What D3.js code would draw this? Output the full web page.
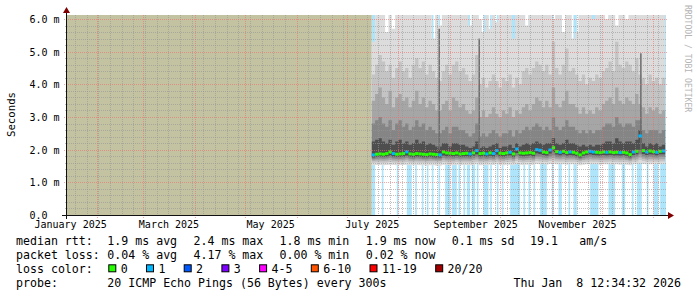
<!DOCTYPE html>
<html>
<head>
<meta charset="utf-8">
<script src="https://cdn.jsdelivr.net/npm/d3@7"></script>
<style>
  body { margin: 0; background: #fff; }
  text { font-family: "DejaVu Sans Mono", monospace; white-space: pre; }
</style>
</head>
<body>
<div id="chart"></div>
<script>
// time window of the graph and the first day that has data (2 days per column)
const timeWindow = ["2025-01-13 12:34:32", "2026-01-08 12:34:32"];
const firstDataDay = "2025-07-16";

// y axis
const yTicks = [0, 1, 2, 3, 4, 5, 6];
const yLabels = ["0.0", "1.0 m", "2.0 m", "3.0 m", "4.0 m", "5.0 m", "6.0 m"];
const xLabels = ["January 2025", "March 2025", "May 2025", "July 2025", "September 2025", "November 2025"];

// median rtt per column (ms) and lost pings in that column
const median = [1.84,1.86,1.87,1.86,1.88,1.93,1.88,1.86,1.87,1.88,
  1.93,1.87,1.86,1.88,1.87,1.86,1.85,1.87,1.86,1.85,
  1.84,1.93,1.90,1.89,1.88,1.90,1.87,1.88,1.89,1.87,
  1.90,1.97,1.88,1.89,1.87,1.90,1.88,1.97,1.89,1.88,
  1.90,1.92,1.87,2.02,1.90,1.89,1.90,1.91,1.89,2.00,
  1.98,1.93,1.91,1.99,2.06,1.94,1.92,1.95,1.91,1.93,
  1.92,1.89,1.84,1.90,1.93,1.95,1.93,1.92,1.91,1.93,
  1.92,1.93,1.91,1.92,1.91,1.92,1.90,1.85,1.93,1.95,
  2.42,1.97,1.93,1.96,1.94,1.92,1.95,1.96];
const medianLoss = [1,0,0,0,0,0,1,0,0,0,
  1,0,0,0,0,0,0,0,0,0,
  1,0,0,0,0,0,0,0,0,1,
  0,1,0,0,1,0,1,1,0,0,
  0,1,0,1,0,0,0,0,0,1,
  1,0,0,1,0,0,1,0,0,1,
  0,0,0,0,0,1,1,0,0,0,
  1,0,0,0,1,0,0,0,1,0,
  1,0,1,0,0,1,0,1];

// smoke: sorted ping levels per column (ms)
const maxPing = [5.3,6.5,6.5,6.5,5.6,6.5,5.7,6.5,6.5,6.5,
  6.5,6.5,6.5,6.5,6.5,6.5,6.5,6.5,5.4,6.5,
  5.8,6.5,6.5,6.5,6.5,6.5,6.5,6.5,6.5,5.8,
  6.5,6.5,6.0,5.6,6.5,5.7,6.5,5.9,6.5,6.5,
  6.5,6.5,5.4,6.5,6.5,6.5,5.8,6.5,6.5,6.5,
  6.5,6.5,6.5,6.5,6.0,6.5,6.5,5.6,6.5,6.5,
  5.4,5.6,6.5,6.5,6.5,6.5,6.0,6.5,6.5,6.5,
  6.0,6.5,6.5,5.8,6.5,6.5,6.0,6.5,6.5,6.5,
  6.5,6.5,6.5,6.5,6.5,6.5,6.5,6.5];
const q90 = [4.3,4.6,4.9,4.7,4.4,4.6,4.2,4.5,4.7,4.4,
  4.5,4.2,4.6,4.8,4.5,4.7,4.3,4.6,4.4,4.2,
  4.1,4.4,4.6,4.3,4.6,4.7,4.4,4.5,4.3,4.1,
  4.3,4.9,4.0,4.2,3.9,4.1,4.3,4.1,3.9,4.2,
  4.1,4.3,3.9,4.2,4.0,4.4,4.5,4.3,4.5,4.7,
  4.6,4.4,4.6,4.3,5.3,4.5,4.3,4.6,5.1,4.4,
  4.5,4.3,4.1,4.3,4.0,4.2,4.1,4.3,4.2,4.4,
  4.5,4.7,4.4,5.3,4.6,4.5,4.7,4.6,4.4,4.8,
  4.3,4.2,4.0,4.3,4.1,4.2,4.0,4.2];
const q80 = [3.5,3.7,3.9,3.6,3.4,3.8,3.3,3.6,3.7,3.5,
  3.6,3.3,3.5,3.8,3.4,3.6,3.3,3.5,3.4,3.2,
  3.2,3.4,3.5,3.2,3.6,3.5,3.3,3.4,3.2,3.1,
  3.2,3.6,3.0,3.2,3.0,3.1,3.3,3.1,3.0,3.2,
  3.1,3.3,3.0,3.2,3.1,3.3,3.4,3.2,3.4,3.6,
  3.5,3.3,3.5,3.3,3.9,3.4,3.3,3.5,3.8,3.4,
  3.4,3.3,3.1,3.3,3.1,3.2,3.1,3.3,3.2,3.4,
  3.5,3.6,3.4,3.9,3.5,3.4,3.6,3.5,3.4,3.7,
  3.4,3.3,3.1,3.3,3.2,3.3,3.1,3.2];
const q70 = [2.8,2.9,3.0,2.8,2.7,2.9,2.6,2.8,2.9,2.7,
  2.8,2.6,2.7,2.9,2.7,2.8,2.6,2.7,2.6,2.5,
  2.5,2.6,2.7,2.5,2.7,2.7,2.6,2.6,2.5,2.4,
  2.5,2.8,2.4,2.5,2.4,2.5,2.6,2.5,2.4,2.5,
  2.5,2.6,2.4,2.6,2.5,2.6,2.7,2.6,2.7,2.8,
  2.7,2.6,2.7,2.6,3.0,2.7,2.6,2.7,2.9,2.7,
  2.7,2.6,2.5,2.6,2.5,2.6,2.5,2.6,2.6,2.7,
  2.8,2.8,2.7,3.0,2.8,2.7,2.8,2.8,2.7,2.9,
  2.9,2.6,2.5,2.6,2.6,2.6,2.5,2.6];
const q60 = [2.25,2.3,2.35,2.25,2.2,2.3,2.15,2.25,2.3,2.2,
  2.25,2.15,2.2,2.3,2.2,2.25,2.15,2.2,2.15,2.1,
  2.1,2.2,2.2,2.1,2.2,2.2,2.15,2.15,2.1,2.05,
  2.1,2.25,2.05,2.1,2.05,2.1,2.15,2.2,2.05,2.1,
  2.1,2.15,2.05,2.2,2.1,2.15,2.2,2.15,2.2,2.25,
  2.2,2.15,2.2,2.2,2.35,2.2,2.15,2.2,2.3,2.2,
  2.2,2.15,2.1,2.15,2.1,2.15,2.1,2.15,2.15,2.2,
  2.25,2.25,2.2,2.35,2.25,2.2,2.25,2.25,2.2,2.3,
  2.6,2.2,2.1,2.2,2.15,2.2,2.1,2.15];
const q40 = [1.76,1.78,1.79,1.78,1.79,1.82,1.79,1.78,1.78,1.79,
  1.82,1.78,1.77,1.79,1.78,1.77,1.77,1.78,1.77,1.76,
  1.76,1.82,1.80,1.80,1.79,1.81,1.78,1.79,1.80,1.78,
  1.81,1.86,1.79,1.80,1.78,1.81,1.79,1.85,1.80,1.79,
  1.81,1.83,1.78,1.90,1.81,1.80,1.81,1.82,1.80,1.89,
  1.87,1.84,1.82,1.88,1.93,1.85,1.83,1.86,1.82,1.84,
  1.83,1.80,1.76,1.81,1.84,1.86,1.84,1.83,1.82,1.84,
  1.83,1.84,1.82,1.83,1.82,1.83,1.81,1.77,1.84,1.86,
  2.00,1.87,1.84,1.86,1.85,1.83,1.86,1.86];
const q30 = [1.71,1.72,1.73,1.72,1.73,1.75,1.73,1.72,1.72,1.73,
  1.75,1.72,1.71,1.73,1.72,1.71,1.71,1.72,1.71,1.70,
  1.70,1.75,1.73,1.73,1.72,1.74,1.72,1.73,1.73,1.72,
  1.74,1.77,1.72,1.73,1.72,1.74,1.72,1.77,1.73,1.72,
  1.74,1.75,1.72,1.80,1.74,1.73,1.74,1.75,1.73,1.79,
  1.78,1.76,1.75,1.79,1.82,1.77,1.76,1.78,1.75,1.76,
  1.76,1.74,1.71,1.74,1.76,1.78,1.76,1.76,1.75,1.76,
  1.76,1.77,1.75,1.76,1.75,1.76,1.74,1.71,1.76,1.78,
  1.85,1.79,1.76,1.78,1.77,1.76,1.78,1.78];
const q20 = [1.66,1.67,1.67,1.66,1.67,1.69,1.67,1.66,1.67,1.67,
  1.69,1.66,1.66,1.67,1.66,1.66,1.65,1.66,1.66,1.65,
  1.65,1.69,1.67,1.67,1.66,1.68,1.66,1.67,1.67,1.66,
  1.68,1.70,1.66,1.67,1.66,1.68,1.67,1.70,1.67,1.66,
  1.68,1.69,1.66,1.72,1.68,1.67,1.68,1.69,1.67,1.72,
  1.71,1.70,1.69,1.72,1.74,1.71,1.70,1.71,1.69,1.70,
  1.70,1.68,1.66,1.68,1.70,1.71,1.70,1.70,1.69,1.70,
  1.70,1.71,1.69,1.70,1.69,1.70,1.68,1.66,1.70,1.71,
  1.76,1.72,1.70,1.71,1.71,1.70,1.71,1.71];
const q10 = [1.60,1.61,1.61,1.60,1.61,1.62,1.61,1.60,1.61,1.61,
  1.62,1.60,1.60,1.61,1.60,1.60,1.59,1.60,1.60,1.59,
  1.59,1.62,1.61,1.61,1.60,1.62,1.60,1.61,1.61,1.60,
  1.61,1.63,1.60,1.61,1.60,1.62,1.61,1.63,1.61,1.60,
  1.62,1.62,1.60,1.65,1.62,1.61,1.62,1.62,1.61,1.65,
  1.64,1.63,1.62,1.65,1.66,1.64,1.63,1.64,1.62,1.63,
  1.63,1.62,1.60,1.62,1.63,1.64,1.63,1.63,1.62,1.63,
  1.63,1.64,1.62,1.63,1.62,1.63,1.62,1.60,1.63,1.64,
  1.68,1.65,1.63,1.64,1.64,1.63,1.64,1.64];
const minPing = [1.52,1.53,1.53,1.52,1.53,1.54,1.53,1.52,1.53,1.53,
  1.54,1.52,1.52,1.53,1.52,1.52,1.51,1.52,1.52,1.51,
  1.51,1.54,1.53,1.53,1.52,1.54,1.52,1.53,1.53,1.52,
  1.53,1.55,1.52,1.53,1.52,1.54,1.53,1.55,1.53,1.52,
  1.54,1.54,1.52,1.56,1.54,1.53,1.54,1.54,1.53,1.56,
  1.55,1.55,1.54,1.56,1.57,1.55,1.55,1.55,1.54,1.55,
  1.55,1.54,1.52,1.54,1.55,1.55,1.55,1.55,1.54,1.55,
  1.55,1.55,1.54,1.55,1.54,1.55,1.54,1.52,1.55,1.55,
  1.58,1.56,1.55,1.55,1.55,1.55,1.55,1.55];

// short high-latency bursts
const spikeDays = ["2025-08-25", "2025-09-18", "2025-12-24"];
const spikeTops = [5.7, 5.4, 4.95];

// periods with packet loss (loss background)
const lossPeriods = [
  ["2025-07-16","2025-07-18"],["2025-07-22","2025-07-23"],["2025-07-31","2025-08-01"],["2025-08-06","2025-08-09"],
  ["2025-08-11","2025-08-12"],["2025-08-15","2025-08-16"],["2025-08-18","2025-08-19"],["2025-08-21","2025-08-22"],
  ["2025-08-25","2025-08-26"],["2025-08-29","2025-09-01"],["2025-09-02","2025-09-05"],["2025-09-06","2025-09-07"],
  ["2025-09-09","2025-09-10"],["2025-09-11","2025-09-13"],["2025-09-14","2025-09-16"],["2025-09-17","2025-09-18"],
  ["2025-09-21","2025-09-24"],["2025-09-25","2025-09-26"],["2025-09-29","2025-09-30"],["2025-10-02","2025-10-03"],
  ["2025-10-07","2025-10-13"],["2025-10-15","2025-10-16"],["2025-10-18","2025-10-19"],["2025-10-21","2025-10-22"],
  ["2025-10-25","2025-10-29"],["2025-11-01","2025-11-02"],["2025-11-05","2025-11-07"],["2025-11-11","2025-11-12"],
  ["2025-11-14","2025-11-16"],["2025-11-24","2025-11-29"],["2025-12-05","2025-12-09"],["2025-12-13","2025-12-15"],
  ["2025-12-19","2025-12-20"],["2025-12-22","2025-12-25"],["2025-12-28","2025-12-29"],["2026-01-01","2026-01-04"],
  ["2026-01-05","2026-01-09"]];

// legend
const medianStats = ["1.9 ms avg", "2.4 ms max", "1.8 ms min", "1.9 ms now", "0.1 ms sd"];
const amps = ["19.1", "am/s"];
const lossStats = ["0.04 % avg", "4.17 % max", "0.00 % min", "0.02 % now"];
const lossLabels = ["0", "1", "2", "3", "4-5", "6-10", "11-19", "20/20"];
const lossColors = ["#26ff00", "#00b8ff", "#0059ff", "#7e00ff", "#ff00ff", "#ff5500", "#ff0000", "#a10000"];
const probeText = "20 ICMP Echo Pings (56 Bytes) every 300s";
const stamp = "Thu Jan  8 12:34:32 2026";

const W = 697, H = 297;
const m = { left: 66, right: 666, top: 15, bottom: 215 };
const parseT = d3.utcParse("%Y-%m-%d %H:%M:%S"), parseD = d3.utcParse("%Y-%m-%d");
const t0 = parseT(timeWindow[0]), t1 = parseT(timeWindow[1]), d0 = parseD(firstDataDay);

const x = d3.scaleUtc().domain([t0, t1]).range([m.left, m.right]);
const y = d3.scaleLinear().domain([0, 6.122]).range([m.bottom, m.top]);

const svg = d3.select('#chart').append('svg').attr('width', W).attr('height', H);
svg.append('rect').attr('width', W).attr('height', H).attr('fill', '#fff');

svg.append('clipPath').attr('id', 'clip').append('rect')
  .attr('x', m.left).attr('y', m.top).attr('width', m.right - m.left).attr('height', m.bottom - m.top);
const plot = svg.append('g').attr('clip-path', 'url(#clip)');

// no data yet
plot.append('rect').attr('x', x(t0)).attr('y', m.top).attr('width', x(d0) - x(t0)).attr('height', m.bottom - m.top)
  .attr('fill', '#c3c2a1');

// loss background
plot.selectAll('.lossbg').data(lossPeriods).enter().append('rect')
  .attr('x', d => x(parseD(d[0]))).attr('width', d => x(parseD(d[1])) - x(parseD(d[0])))
  .attr('y', m.top).attr('height', m.bottom - m.top).attr('fill', '#aee5fb');

// smoke
const cols = median.map((v, i) => ({
  t: d3.utcDay.offset(d0, 2 * i), med: v, loss: medianLoss[i],
  lo: [minPing[i], q10[i], q20[i], q30[i], q40[i]],
  hi: [maxPing[i], q90[i], q80[i], q70[i], q60[i]]
}));
const pts = cols.concat([Object.assign({}, cols[cols.length - 1], { t: d3.utcDay.offset(d0, 2 * cols.length) })]);
const shades = ['#dcdcdc', '#c4c4c4', '#a6a6a6', '#858585', '#4e4e4e'];
shades.forEach((c, k) => {
  const area = d3.area().curve(d3.curveStepAfter)
    .x(d => x(d.t)).y0(d => y(d.lo[k])).y1(d => y(d.hi[k]));
  plot.append('path').datum(pts).attr('d', area).attr('fill', c);
});

plot.selectAll('.spike').data(spikeDays).enter().append('rect')
  .attr('x', d => x(parseD(d))).attr('width', 1.5)
  .attr('y', (d, i) => y(spikeTops[i])).attr('height', (d, i) => y(2.0) - y(spikeTops[i]))
  .attr('fill', '#6c6c6c');

// median
plot.selectAll('.med').data(cols).enter().append('rect')
  .attr('x', d => x(d.t)).attr('width', d => x(d3.utcDay.offset(d.t, 2)) - x(d.t))
  .attr('y', d => y(d.med) - 1.5).attr('height', 3)
  .attr('fill', d => lossColors[d.loss]);

// grid
const grid = svg.append('g');
const minorY = y.ticks(30).filter(v => v > 0 && Math.abs(v - Math.round(v)) > 1e-6);
const months = d3.utcMonth.range(t0, t1);
const sundays = d3.utcSunday.range(t0, t1).filter(d => !months.some(mo => Math.abs(mo - d) < 864e5));
const minor = 'rgba(150,150,150,0.6)', major = 'rgba(235,110,110,0.6)';
grid.selectAll('.gy').data(minorY).enter().append('line')
  .attr('x1', m.left - 1).attr('x2', m.right + 1).attr('y1', d => Math.round(y(d)) + 0.5).attr('y2', d => Math.round(y(d)) + 0.5)
  .attr('stroke', minor).attr('stroke-dasharray', '1,1');
grid.selectAll('.gx').data(sundays).enter().append('line')
  .attr('x1', d => Math.round(x(d)) + 0.5).attr('x2', d => Math.round(x(d)) + 0.5).attr('y1', m.top).attr('y2', m.bottom)
  .attr('stroke', minor).attr('stroke-dasharray', '1,1');
grid.selectAll('.my').data(yTicks.slice(1)).enter().append('line')
  .attr('x1', m.left - 2).attr('x2', m.right + 2).attr('y1', d => Math.round(y(d)) + 0.5).attr('y2', d => Math.round(y(d)) + 0.5)
  .attr('stroke', major).attr('stroke-dasharray', '1,1');
grid.selectAll('.mx').data(months).enter().append('line')
  .attr('x1', d => Math.round(x(d)) + 0.5).attr('x2', d => Math.round(x(d)) + 0.5).attr('y1', m.top).attr('y2', m.bottom + 3)
  .attr('stroke', major).attr('stroke-dasharray', '1,1');

// axes
svg.append('line').attr('x1', m.left - 4).attr('x2', m.right + 4).attr('y1', m.bottom + 0.5).attr('y2', m.bottom + 0.5)
  .attr('stroke', '#111');
svg.append('line').attr('x1', m.left + 0.5).attr('x2', m.left + 0.5).attr('y1', m.bottom + 4).attr('y2', m.top - 4)
  .attr('stroke', '#111');
svg.append('path').attr('d', `M${m.right + 2},${m.bottom - 3}L${m.right + 2},${m.bottom + 4}L${m.right + 8},${m.bottom + 0.5}Z`)
  .attr('fill', '#7f0000');
svg.append('path').attr('d', `M${m.left - 3},${m.top - 2}L${m.left + 4},${m.top - 2}L${m.left + 0.5},${m.top - 8}Z`)
  .attr('fill', '#7f0000');

const yAxis = svg.append('g').attr('transform', `translate(${m.left},0)`)
  .call(d3.axisLeft(y).tickValues(yTicks).tickSize(0).tickFormat((d, i) => yLabels[i]));
yAxis.select('.domain').remove();
yAxis.selectAll('text').attr('x', 29.5 - m.left).attr('text-anchor', 'start').attr('dy', '0.36em')
  .attr('font-family', null).attr('font-size', 10).attr('fill', '#000');

const labelTimes = d3.utcMonth.every(2).range(d3.utcYear.floor(t0), t1).map(mo => d3.utcDay.offset(mo, 15));
const xAxis = svg.append('g').attr('transform', `translate(0,${m.bottom})`)
  .call(d3.axisBottom(x).tickValues(labelTimes).tickSize(0).tickFormat((d, i) => xLabels[i]));
xAxis.select('.domain').remove();
xAxis.selectAll('text').attr('y', 13).attr('dy', null)
  .attr('font-family', null).attr('font-size', 10).attr('fill', '#000');

svg.append('text').attr('transform', 'translate(14.5,114.5) rotate(-90)').attr('text-anchor', 'middle')
  .attr('font-size', 10.7).attr('fill', '#000').text('Seconds');
svg.append('text').attr('transform', 'translate(685,5) rotate(90)')
  .attr('font-size', 8.1).attr('fill', '#b4b4b4').text('RRDTOOL / TOBI OETIKER');

// legend
const lg = svg.append('g').attr('font-size', 11.6).attr('fill', '#000');
const rows = [245, 259, 272.5, 286.5];
const colX = [107.3, 193.5, 279.5, 365.7, 451.7];
lg.append('text').attr('x', 16).attr('y', rows[0]).text('median rtt:');
lg.selectAll('.ms').data(medianStats).enter().append('text')
  .attr('x', (d, i) => colX[i]).attr('y', rows[0]).text(d => d);
lg.selectAll('.am').data(amps).enter().append('text')
  .attr('x', (d, i) => [530, 579.3][i]).attr('y', rows[0]).text(d => d);
lg.append('text').attr('x', 16).attr('y', rows[1]).text('packet loss:');
lg.selectAll('.ls').data(lossStats).enter().append('text')
  .attr('x', (d, i) => colX[i]).attr('y', rows[1]).text(d => d);
lg.append('text').attr('x', 16).attr('y', rows[2]).text('loss color:');
let bx = 108.3;
lossLabels.forEach((lab, i) => {
  lg.append('rect').attr('x', bx + 0.5).attr('y', rows[2] - 7.7).attr('width', 7).attr('height', 7)
    .attr('fill', lossColors[i]).attr('stroke', '#000').attr('stroke-width', 1);
  lg.append('text').attr('x', bx + 12.4).attr('y', rows[2]).text(lab);
  bx += 12.4 + lab.length * 7 + 18.3;
});
lg.append('text').attr('x', 16).attr('y', rows[3]).text('probe:');
lg.append('text').attr('x', 107.3).attr('y', rows[3]).text(probeText);
lg.append('text').attr('x', 681).attr('y', rows[3]).attr('text-anchor', 'end').text(stamp);
</script>
</body>
</html>
